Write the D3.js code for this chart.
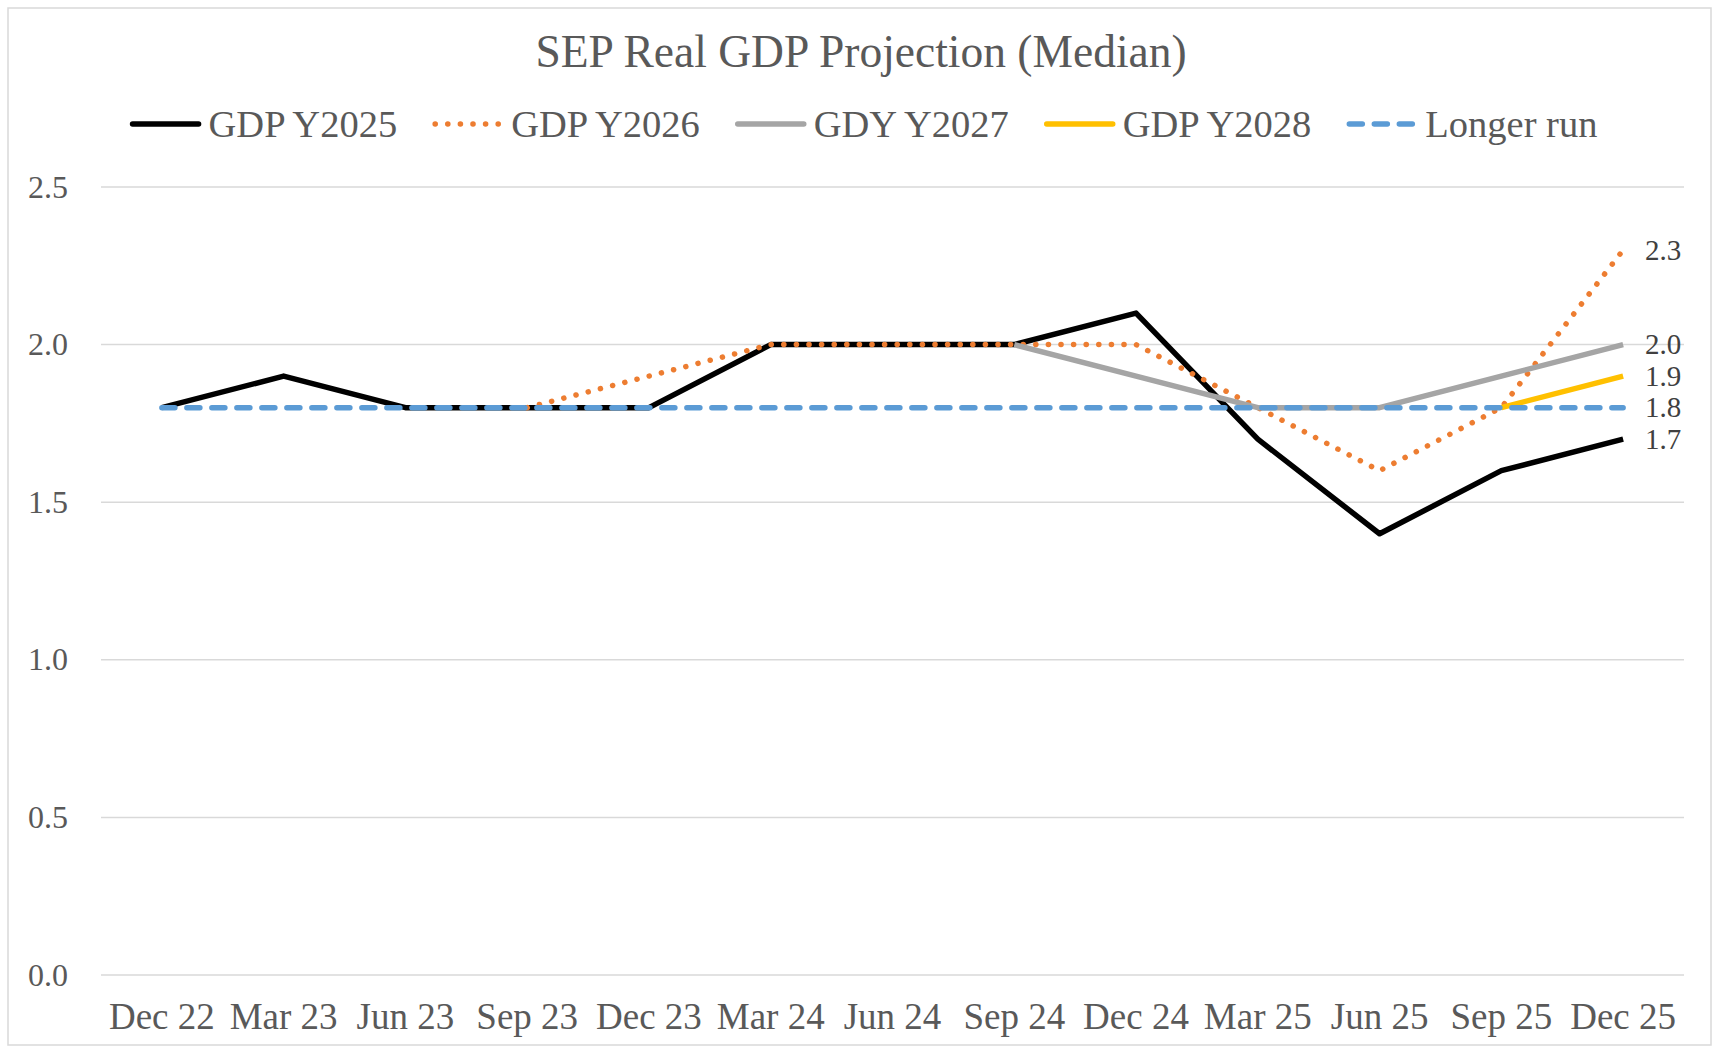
<!DOCTYPE html>
<html>
<head>
<meta charset="utf-8">
<script src="https://d3js.org/d3.v7.min.js"></script>
<style>
  body { margin: 0; background: #fff; }
  text { font-family: "Liberation Serif", "DejaVu Serif", serif; fill: #595959; }
</style>
</head>
<body>
<script>
// chart data
const quarters = ["Dec 22", "Mar 23", "Jun 23", "Sep 23", "Dec 23", "Mar 24", "Jun 24",
                  "Sep 24", "Dec 24", "Mar 25", "Jun 25", "Sep 25", "Dec 25"];
const gdp2025 = [1.8, 1.9, 1.8, 1.8, 1.8, 2.0, 2.0, 2.0, 2.1, 1.7, 1.4, 1.6, 1.7];
const gdp2026 = [null, null, null, 1.8, 1.9, 2.0, 2.0, 2.0, 2.0, 1.8, 1.6, 1.8, 2.3];
const gdy2027 = [null, null, null, null, null, null, null, 2.0, 1.9, 1.8, 1.8, 1.9, 2.0];
const gdp2028 = [null, null, null, null, null, null, null, null, null, null, null, 1.8, 1.9];
const longerRun = [1.8, 1.8, 1.8, 1.8, 1.8, 1.8, 1.8, 1.8, 1.8, 1.8, 1.8, 1.8, 1.8];
const yTicks = [0, 0.5, 1.0, 1.5, 2.0, 2.5];

const series = [
  {name: "GDP Y2025", values: gdp2025, color: "#000000", dash: null},
  {name: "GDP Y2026", values: gdp2026, color: "#ED7D31", dash: "0.1 12.5"},
  {name: "GDY Y2027", values: gdy2027, color: "#A5A5A5", dash: null},
  {name: "GDP Y2028", values: gdp2028, color: "#FFC000", dash: null},
  {name: "Longer run", values: longerRun, color: "#5B9BD5", dash: "13 12"}
];

const width = 1717, height = 1050;

let svg = d3.select("body").append("svg")
    .attr("width", width)
    .attr("height", height);

// outer border
svg.append("rect")
    .attr("x", 8).attr("y", 8)
    .attr("width", 1703).attr("height", 1037)
    .attr("fill", "#fff")
    .attr("stroke", "#D9D9D9")
    .attr("stroke-width", 1.5);

let x = d3.scalePoint()
    .domain(quarters)
    .range([101, 1684])
    .padding(0.5);

let y = d3.scaleLinear()
    .domain([0, 2.5])
    .range([975, 187]);

// gridlines
svg.append("g").selectAll("line")
    .data(yTicks)
    .join("line")
      .attr("x1", 101).attr("x2", 1684)
      .attr("y1", d => y(d)).attr("y2", d => y(d))
      .attr("stroke", "#D9D9D9")
      .attr("stroke-width", 1.5);

// y axis labels
svg.append("g").selectAll("text")
    .data(yTicks)
    .join("text")
      .attr("x", 68)
      .attr("y", d => y(d))
      .attr("dy", "0.33em")
      .attr("text-anchor", "end")
      .style("font-size", "32px")
      .text(d => d3.format(".1f")(d));

// x axis labels
svg.append("g").selectAll("text")
    .data(quarters)
    .join("text")
      .attr("x", d => x(d))
      .attr("y", 1029)
      .attr("text-anchor", "middle")
      .style("font-size", "37px")
      .text(d => d);

// lines
let line = d3.line()
    .defined(d => d.v != null)
    .x(d => x(d.q))
    .y(d => y(d.v));

svg.append("g").selectAll("path")
    .data(series)
    .join("path")
      .attr("d", s => line(s.values.map((v, i) => ({q: quarters[i], v: v}))))
      .attr("fill", "none")
      .attr("stroke", s => s.color)
      .attr("stroke-width", 5.5)
      .attr("stroke-linejoin", "round")
      .attr("stroke-linecap", s => s.dash ? "round" : "butt")
      .attr("stroke-dasharray", s => s.dash);

// end labels
let last = quarters[quarters.length - 1];
svg.append("g").selectAll("text")
    .data(series)
    .join("text")
      .attr("x", x(last) + 22)
      .attr("y", s => y(s.values[s.values.length - 1]))
      .attr("dy", "0.33em")
      .style("font-size", "29px")
      .style("fill", "#404040")
      .text(s => d3.format(".1f")(s.values[s.values.length - 1]));

// title
svg.append("text")
    .attr("x", 861)
    .attr("y", 67)
    .attr("text-anchor", "middle")
    .style("font-size", "45.5px")
    .text("SEP Real GDP Projection (Median)");

// legend
let legend = svg.append("g");
let items = legend.selectAll("g")
    .data(series)
    .join("g");

items.append("line")
    .attr("x1", 0).attr("x2", 66)
    .attr("y1", 0).attr("y2", 0)
    .attr("stroke", s => s.color)
    .attr("stroke-width", 5.5)
    .attr("stroke-linecap", "round")
    .attr("stroke-dasharray", s => s.dash);

items.append("text")
    .attr("x", 76)
    .attr("dy", "0.33em")
    .style("font-size", "38.5px")
    .text(s => s.name);

let pos = 0, offsets = [];
items.each(function() {
  offsets.push(pos);
  pos += 76 + d3.select(this).select("text").node().getComputedTextLength() + 38;
});
let total = pos - 38;
let start = 865 - total / 2;
items.attr("transform", (s, i) => `translate(${start + offsets[i]},124)`);
</script>
</body>
</html>
